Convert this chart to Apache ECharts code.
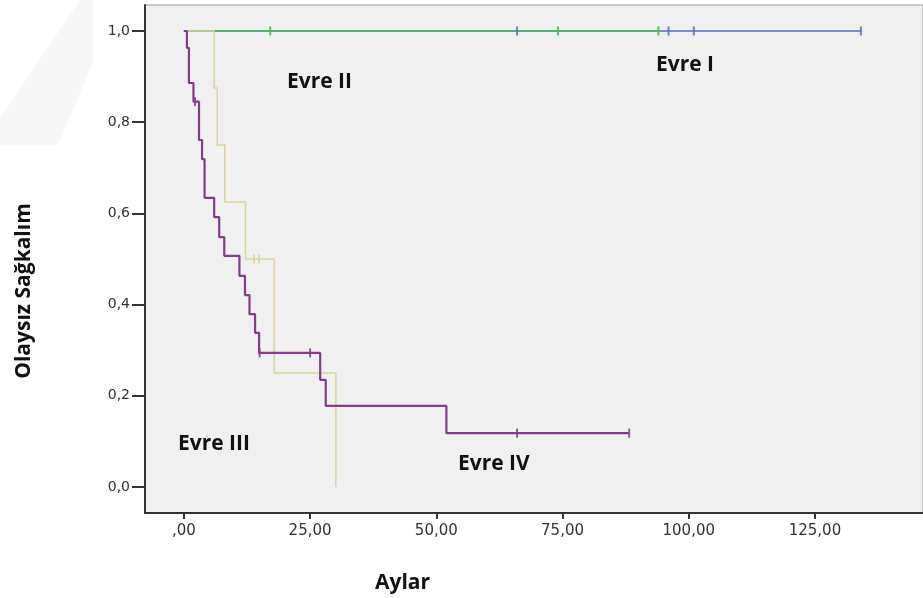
<!DOCTYPE html>
<html>
<head>
<meta charset="utf-8">
<script src="https://cdn.jsdelivr.net/npm/echarts@6/dist/echarts.min.js"></script>
<style>
  html, body { margin: 0; padding: 0; background: #fff; }
  #container { width: 923px; height: 598px; }
</style>
</head>
<body>
<div id="container"></div>
<script>
var dom = document.getElementById('container');
var myChart = echarts.init(dom, null, { renderer: 'canvas' });

// eksen işaretleri
var xTicks = [0, 25, 50, 75, 100, 125];
var yTicks = [0, 0.2, 0.4, 0.6, 0.8, 1.0];

// Kaplan-Meier basamakları [ay, sağkalım]
var evre1 = [[0, 1], [134.1, 1]];
var evre1Cens = [[66, 1], [96, 1], [101, 1], [134.1, 1]];

var evre2 = [[0, 1], [94.0, 1]];
var evre2Cens = [[17.1, 1], [74.1, 1], [94.0, 1]];

var evre3 = [[0, 1], [6.0, 0.875], [6.6, 0.75], [8.1, 0.625], [12.2, 0.5],
  [17.9, 0.25], [30.1, 0]];
var evre3Cens = [[13.9, 0.5], [14.9, 0.5]];

var evre4 = [[0, 1], [0.6, 0.963], [1.0, 0.886], [1.9, 0.845], [3.0, 0.761],
  [3.6, 0.719], [4.1, 0.634], [6.0, 0.592], [7.0, 0.548], [8.0, 0.507],
  [11.0, 0.463], [12.1, 0.421], [13.0, 0.379], [14.1, 0.338], [14.9, 0.294],
  [27.0, 0.235], [28.1, 0.178], [52.0, 0.118], [88.2, 0.118]];
var evre4Cens = [[2.2, 0.845], [15.0, 0.294], [25.0, 0.294], [66.0, 0.118], [88.2, 0.118]];

var colBlue = '#5a6cc0';
var colGreen = '#4dbb55';
var colYellow = '#d8d39c';
var colPurple = '#853a8c';

function curve(name, data, color, width, z) {
  return {
    name: name, type: 'line', data: data, step: 'end',
    showSymbol: false, symbol: 'none', z: z,
    lineStyle: { color: color, width: width },
    animation: false
  };
}
function cens(name, data, color, z) {
  return {
    name: name, type: 'scatter', data: data, z: z,
    symbol: 'rect', symbolSize: [2, 9],
    itemStyle: { color: color, opacity: 0.85 },
    animation: false
  };
}

var lblFont = { fontFamily: 'Open Sans', fontWeight: 'bold', fontSize: 21, fill: '#111' };

option = {
  backgroundColor: '#fff',
  grid: {
    left: 145, top: 5, right: 0, bottom: 85,
    show: true, backgroundColor: '#f0f0f0', borderColor: '#999', borderWidth: 1
  },
  xAxis: {
    type: 'value', min: -7.7, max: 146.4,
    splitLine: { show: false },
    axisLine: { onZero: false, lineStyle: { color: '#333', width: 2 } },
    axisTick: { show: true, length: 6, customValues: xTicks, lineStyle: { color: '#333', width: 2 } },
    axisLabel: {
      customValues: xTicks, margin: 11, color: '#333', fontSize: 15,
      fontFamily: 'DejaVu Sans',
      formatter: function (v) { return v === 0 ? ',00' : v.toFixed(2).replace('.', ','); }
    }
  },
  yAxis: {
    type: 'value', min: -0.057, max: 1.057,
    splitLine: { show: false },
    axisLine: { onZero: false, lineStyle: { color: '#333', width: 2 } },
    axisTick: { show: true, length: 13, customValues: yTicks, lineStyle: { color: '#333', width: 2 } },
    axisLabel: {
      customValues: yTicks, margin: 15, color: '#333', fontSize: 14,
      fontFamily: 'DejaVu Sans',
      formatter: function (v) { return v.toFixed(1).replace('.', ','); }
    }
  },
  series: [
    curve('Evre I', evre1, colBlue, 1.5, 1),
    curve('Evre II', evre2, colGreen, 1.5, 2),
    curve('Evre III', evre3, colYellow, 1.5, 3),
    curve('Evre IV', evre4, colPurple, 2.2, 4),
    cens('Evre I sansür', evre1Cens, colBlue, 5),
    cens('Evre II sansür', evre2Cens, colGreen, 5),
    cens('Evre III sansür', evre3Cens, colYellow, 5),
    cens('Evre IV sansür', evre4Cens, colPurple, 5)
  ],
  graphic: [
    // soluk filigran
    {
      type: 'polygon', z: -10, silent: true,
      shape: { points: [[80, 0], [93, 0], [93, 62], [58, 145], [0, 145], [0, 118]] },
      style: { fill: '#f7f7f7' }
    },
    { type: 'text', left: 287, top: 71.5, style: Object.assign({ text: 'Evre II' }, lblFont) },
    { type: 'text', left: 656, top: 54.5, style: Object.assign({ text: 'Evre I' }, lblFont) },
    { type: 'text', left: 178, top: 433.5, style: Object.assign({ text: 'Evre III' }, lblFont) },
    { type: 'text', left: 458, top: 453.5, style: Object.assign({ text: 'Evre IV' }, lblFont) },
    { type: 'text', left: 375, top: 572.5, style: Object.assign({ text: 'Aylar' }, lblFont) },
    {
      type: 'text', x: 24, y: 291, rotation: Math.PI / 2,
      style: Object.assign({ text: 'Olaysız Sağkalım', align: 'center', verticalAlign: 'middle' }, lblFont)
    }
  ]
};

myChart.setOption(option);
</script>
</body>
</html>
